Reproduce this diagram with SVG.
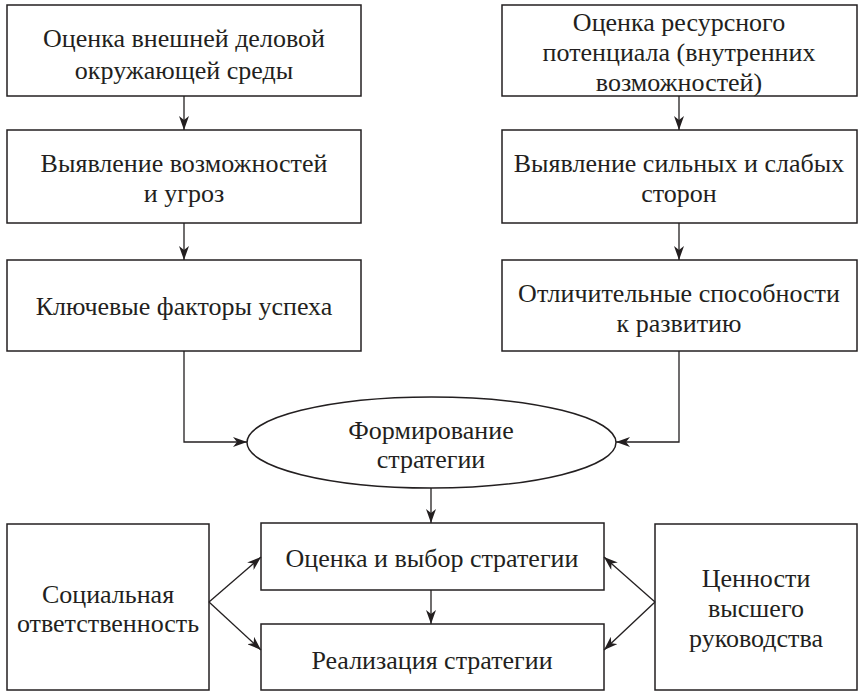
<svg xmlns="http://www.w3.org/2000/svg" width="865" height="697" viewBox="0 0 865 697">
<defs>
<marker id="ah" viewBox="0 0 14 10" refX="14" refY="5" markerWidth="14" markerHeight="10" markerUnits="userSpaceOnUse" orient="auto">
<path d="M0,0 L14,5 L0,10 L4,5 Z" fill="#231f20"/>
</marker>
</defs>
<style>
.box{fill:#fff;stroke:#231f20;stroke-width:1.5}
text{font-family:'Liberation Serif','DejaVu Serif',serif;font-size:26px;fill:#231f20;text-anchor:middle}
.c{fill:none;stroke:#231f20;stroke-width:1.3}
</style>
<rect width="865" height="697" fill="#fff"/>
<g id="n1"><rect class="box" x="7" y="5" width="354" height="91"/>
<text x="184" y="47">Оценка внешней деловой</text><text x="184" y="79">окружающей среды</text></g>
<g id="n2"><rect class="box" x="7" y="130" width="354" height="93"/>
<text x="184" y="172">Выявление возможностей</text><text x="184" y="202">и угроз</text></g>
<g id="n3"><rect class="box" x="7" y="260" width="354" height="91"/>
<text x="184" y="315">Ключевые факторы успеха</text></g>
<g id="n4"><rect class="box" x="502" y="5" width="355" height="91"/>
<text x="679" y="31">Оценка ресурсного</text><text x="679" y="61">потенциала (внутренних</text><text x="679" y="91">возможностей)</text></g>
<g id="n5"><rect class="box" x="502" y="130" width="355" height="93"/>
<text x="679" y="172">Выявление сильных и слабых</text><text x="679" y="202">сторон</text></g>
<g id="n6"><rect class="box" x="502" y="260" width="355" height="91"/>
<text x="679" y="302">Отличительные способности</text><text x="679" y="332">к развитию</text></g>
<g id="n7"><ellipse class="box" cx="431.5" cy="442.5" rx="184.5" ry="45.5"/>
<text x="431" y="439">Формирование</text><text x="431" y="468">стратегии</text></g>
<g id="n8"><rect class="box" x="261" y="523" width="343" height="67"/>
<text x="432" y="567">Оценка и выбор стратегии</text></g>
<g id="n9"><rect class="box" x="261" y="624" width="343" height="66"/>
<text x="432" y="669">Реализация стратегии</text></g>
<g id="n10"><rect class="box" x="7" y="524" width="202" height="166"/>
<text x="108" y="603">Социальная</text><text x="108" y="632">ответственность</text></g>
<g id="n11"><rect class="box" x="655" y="524" width="202" height="166"/>
<text x="756" y="587">Ценности</text><text x="756" y="617">высшего</text><text x="756" y="647">руководства</text></g>
<g id="connectors">
<line class="c" x1="184" y1="96" x2="184" y2="130" marker-end="url(#ah)"/>
<line class="c" x1="184" y1="223" x2="184" y2="260" marker-end="url(#ah)"/>
<line class="c" x1="679" y1="96" x2="679" y2="130" marker-end="url(#ah)"/>
<line class="c" x1="679" y1="223" x2="679" y2="260" marker-end="url(#ah)"/>
<polyline class="c" points="184,351 184,442 247,442" marker-end="url(#ah)"/>
<polyline class="c" points="679,351 679,442 616,442" marker-end="url(#ah)"/>
<line class="c" x1="431" y1="488" x2="431" y2="523" marker-end="url(#ah)"/>
<line class="c" x1="431" y1="590" x2="431" y2="624" marker-end="url(#ah)"/>
<line class="c" x1="209" y1="602" x2="261" y2="557" marker-end="url(#ah)"/>
<line class="c" x1="209" y1="602" x2="261" y2="650" marker-end="url(#ah)"/>
<line class="c" x1="655" y1="602" x2="604" y2="557" marker-end="url(#ah)"/>
<line class="c" x1="655" y1="602" x2="604" y2="650" marker-end="url(#ah)"/>
</g>
</svg>
